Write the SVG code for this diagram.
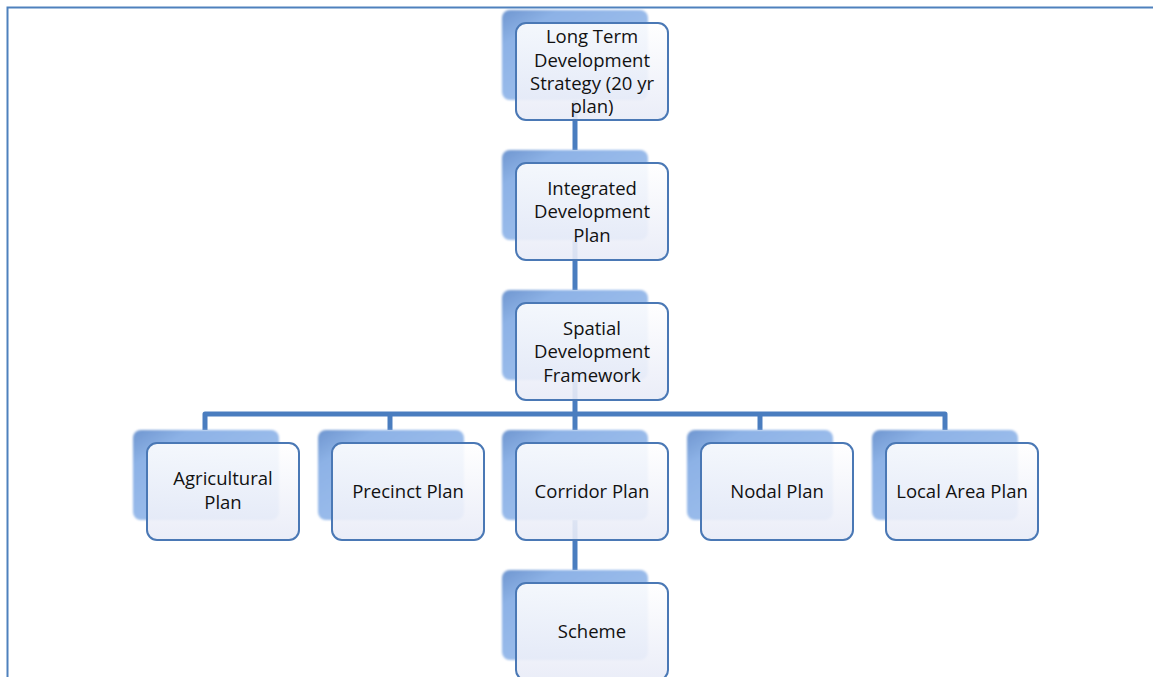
<svg xmlns="http://www.w3.org/2000/svg" width="1153" height="677" viewBox="0 0 1153 677">
  <defs>
    <linearGradient id="backFill" x1="0" y1="0" x2="1" y2="1">
      <stop offset="0" stop-color="#6f96d0"/>
      <stop offset="0.2" stop-color="#8db2e6"/>
      <stop offset="1" stop-color="#a9c7f0"/>
    </linearGradient>
    <linearGradient id="frontFill" x1="0" y1="0" x2="0" y2="1">
      <stop offset="0" stop-color="#ffffff"/>
      <stop offset="1" stop-color="#e8ebf7"/>
    </linearGradient>
    <filter id="soft" x="-10%" y="-10%" width="120%" height="120%">
      <feGaussianBlur stdDeviation="1"/>
    </filter>
    <!-- blue back plate sitting behind each card -->
    <g id="plate">
      <rect x="-14" y="-13" width="146" height="90" rx="8" fill="url(#backFill)" filter="url(#soft)"/>
    </g>
  </defs>
  <style>
    .frame { stroke: #4f81bd; stroke-width: 2; fill: none; }
    .link { stroke: #4a7dbf; stroke-width: 5; fill: none; stroke-linejoin: round; }
    .card { fill: url(#frontFill); fill-opacity: 0.9; stroke: #4a78b5; stroke-width: 2; }
    .label { font-family: "Open Sans", "Liberation Sans", sans-serif; font-size: 18.5px; fill: #111; text-anchor: middle; }
  </style>

  <!-- page border -->
  <path class="frame" d="M7.5 677 V7.5 H1153"/>

  <!-- connectors -->
  <g id="connectors">
    <path class="link" d="M575 100 V150"/>
    <path class="link" d="M575 240 V290"/>
    <path class="link" d="M575 380 V430"/>
    <path class="link" d="M205 430 V414 H945 V430"/>
    <path class="link" d="M390 414 V430"/>
    <path class="link" d="M760 414 V430"/>
    <path class="link" d="M575 520 V570"/>
  </g>

  <g id="node-ltds">
    <use href="#plate" x="516" y="23"/>
    <rect class="card" x="516" y="23" width="152" height="97" rx="10"/>
    <text class="label" x="592" y="43">Long Term</text>
    <text class="label" x="592" y="67">Development</text>
    <text class="label" x="592" y="90">Strategy (20 yr</text>
    <text class="label" x="592" y="113">plan)</text>
  </g>

  <g id="node-idp">
    <use href="#plate" x="516" y="163"/>
    <rect class="card" x="516" y="163" width="152" height="97" rx="10"/>
    <text class="label" x="592" y="195">Integrated</text>
    <text class="label" x="592" y="218">Development</text>
    <text class="label" x="592" y="242">Plan</text>
  </g>

  <g id="node-sdf">
    <use href="#plate" x="516" y="303"/>
    <rect class="card" x="516" y="303" width="152" height="97" rx="10"/>
    <text class="label" x="592" y="335">Spatial</text>
    <text class="label" x="592" y="358">Development</text>
    <text class="label" x="592" y="382">Framework</text>
  </g>

  <g id="node-agricultural">
    <use href="#plate" x="147" y="443"/>
    <rect class="card" x="147" y="443" width="152" height="97" rx="10"/>
    <text class="label" x="223" y="485">Agricultural</text>
    <text class="label" x="223" y="509">Plan</text>
  </g>

  <g id="node-precinct">
    <use href="#plate" x="332" y="443"/>
    <rect class="card" x="332" y="443" width="152" height="97" rx="10"/>
    <text class="label" x="408" y="498">Precinct Plan</text>
  </g>

  <g id="node-corridor">
    <use href="#plate" x="516" y="443"/>
    <rect class="card" x="516" y="443" width="152" height="97" rx="10"/>
    <text class="label" x="592" y="498">Corridor Plan</text>
  </g>

  <g id="node-nodal">
    <use href="#plate" x="701" y="443"/>
    <rect class="card" x="701" y="443" width="152" height="97" rx="10"/>
    <text class="label" x="777" y="498">Nodal Plan</text>
  </g>

  <g id="node-local">
    <use href="#plate" x="886" y="443"/>
    <rect class="card" x="886" y="443" width="152" height="97" rx="10"/>
    <text class="label" x="962" y="498">Local Area Plan</text>
  </g>

  <g id="node-scheme">
    <use href="#plate" x="516" y="583"/>
    <rect class="card" x="516" y="583" width="152" height="97" rx="10"/>
    <text class="label" x="592" y="638">Scheme</text>
  </g>
</svg>
